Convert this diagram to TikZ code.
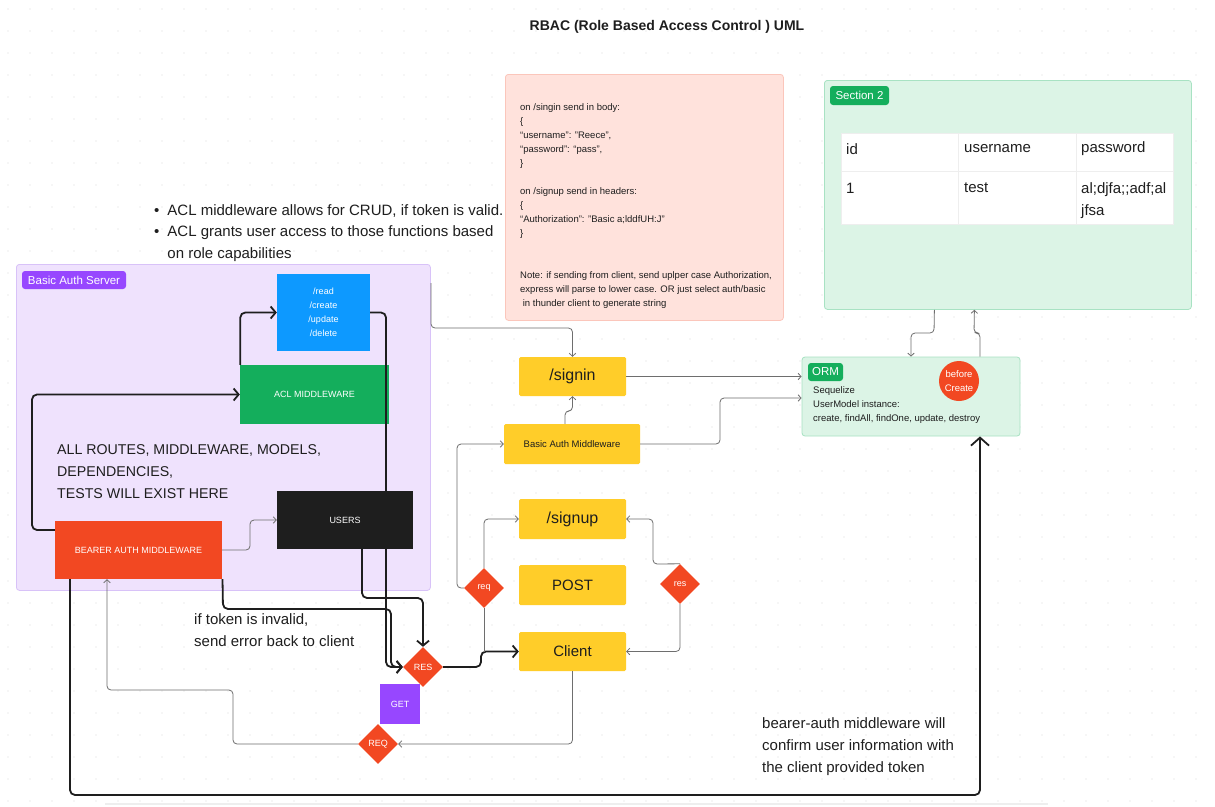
\documentclass[tikz,border=0pt]{standalone}
\usepackage{fontspec}
\setmainfont{Liberation Sans}
\usetikzlibrary{arrows.meta,shapes.geometric,calc}
\definecolor{ink}{HTML}{1E1E1E}
\definecolor{wire}{HTML}{6E6E6E}
\definecolor{dotc}{HTML}{D9D9D9}
\definecolor{pinkfill}{HTML}{FFE2DC}
\definecolor{pinkline}{HTML}{FBC6BB}
\definecolor{mintfill}{HTML}{DCF4E6}
\definecolor{mintline}{HTML}{A8E2C3}
\definecolor{lilacfill}{HTML}{EFE2FD}
\definecolor{lilacline}{HTML}{D8C2F8}
\definecolor{figpurple}{HTML}{9747FF}
\definecolor{figgreen}{HTML}{14AE5C}
\definecolor{figblue}{HTML}{0D99FF}
\definecolor{figred}{HTML}{F24822}
\definecolor{figyellow}{HTML}{FFCD29}
\definecolor{cellline}{HTML}{EEEEEE}
\begin{document}
\begin{tikzpicture}[x=1pt,y=-1pt,
  area/.style={draw, line width=0.8pt, rounded corners=3pt, inner sep=0pt},
  pill/.style={rounded corners=3pt, text=white, inner sep=0pt, font=\fontsize{11.5}{13}\selectfont},
  solid box/.style={inner sep=0pt, text=white, align=center, font=\fontsize{9}{14}\selectfont},
  ybox/.style={fill=figyellow, rounded corners=1.5pt, inner sep=0pt, text=ink, minimum width=107pt},
  dia/.style={diamond, aspect=1, fill=figred, inner sep=0pt, minimum width=40pt, minimum height=40pt, text=white, font=\fontsize{9}{11}\selectfont},
  cell/.style={fill=white, draw=cellline, line width=0.6pt, inner sep=0pt, anchor=north west},
  celltext/.style={anchor=west, inner sep=0pt, text=ink, font=\fontsize{15}{22}\selectfont, align=left},
  txt/.style={inner sep=0pt, text=ink, align=left, anchor=north west},
  thn/.style={draw=wire, line width=0.8pt, rounded corners=4pt},
  thk/.style={draw=ink, line width=1.8pt, rounded corners=5pt},
  thinarrow/.style={-{Straight Barb[length=3pt,width=6.5pt,line width=0.8pt]}},
  thickarrow/.style={-{Straight Barb[length=5pt,width=12pt,line width=1.8pt]}},
]
\useasboundingbox (0,0) rectangle (1215,806);
\fill[white] (0,0) rectangle (1215,806);
\foreach \i in {0,...,55} {\foreach \j in {0,...,36} {\fill[dotc] (8+\i*22, 9+\j*22) circle (0.65pt);}}

% title
\node[inner sep=0pt, text=ink, font=\bfseries\fontsize{14}{17}\selectfont] (title) at (667,27) {RBAC (Role Based Access Control ) UML};

% note box
\node[area, draw=pinkline, fill=pinkfill, anchor=north west, minimum width=278pt, minimum height=246pt] (note) at (505,74) {};
\node[txt, font=\fontsize{9.5}{14}\selectfont] (notetext) at (520,103.5) {on /singin send in body:\\
\{\\
“username”: "Reece",\\
“password”: “pass”,\\
\}\\
\mbox{}\\
on /signup send in headers:\\
\{\\
“Authorization”: "Basic a;lddfUH:J”\\
\}\\
\mbox{}\\
\mbox{}\\
Note: if sending from client, send uplper case Authorization,\\
express will parse to lower case. OR just select auth/basic\\
\ in thunder client to generate string};

% section 2
\node[area, draw=mintline, fill=mintfill, anchor=north west, minimum width=367pt, minimum height=229pt] (sec2) at (824,80) {};
\node[pill, fill=figgreen, minimum width=59pt, minimum height=19pt] (sec2lbl) at (859.5,95.5) {Section 2};
\node[cell, minimum width=117pt, minimum height=38pt] (c11) at (841,133) {};
\node[cell, minimum width=118pt, minimum height=38pt] (c12) at (958,133) {};
\node[cell, minimum width=97pt, minimum height=38pt] (c13) at (1076,133) {};
\node[cell, minimum width=117pt, minimum height=53pt] (c21) at (841,171) {};
\node[cell, minimum width=118pt, minimum height=53pt] (c22) at (958,171) {};
\node[cell, minimum width=97pt, minimum height=53pt] (c23) at (1076,171) {};
\node[celltext] (t11) at (846,149) {id};
\node[celltext] (t12) at (964,149) {username};
\node[celltext] (t13) at (1081,149) {password};
\node[celltext] (t21) at (846,188) {1};
\node[celltext] (t22) at (964,188) {test};
\node[txt, font=\fontsize{15}{22}\selectfont] (t23) at (1081,182) {al;djfa;;adf;al\\jfsa};

% bullets
\node[txt, font=\fontsize{15}{21.5}\selectfont] (bullets) at (154,200) {\begin{tabular}{@{}l@{\hspace{8pt}}l@{}}•&ACL middleware allows for CRUD, if token is valid.\\ •&ACL grants user access to those functions based\\ &on role capabilities\end{tabular}};

% server area
\node[area, draw=lilacline, fill=lilacfill, anchor=north west, minimum width=414pt, minimum height=326pt] (server) at (16,264) {};
\node[pill, fill=figpurple, minimum width=104pt, minimum height=18pt] (serverlbl) at (74,280) {Basic Auth Server};

\node[solid box, fill=figblue, minimum width=93pt, minimum height=77pt] (crud) at (323.5,312.5) {/read\\/create\\/update\\/delete};
\node[solid box, fill=figgreen, minimum width=149pt, minimum height=59pt] (acl) at (314.5,394.5) {ACL MIDDLEWARE};
\node[txt, font=\fontsize{14.2}{22}\selectfont] (allroutes) at (57,444.5) {ALL ROUTES, MIDDLEWARE, MODELS,\\DEPENDENCIES,\\TESTS WILL EXIST HERE};
\node[solid box, fill=ink, minimum width=136pt, minimum height=58pt] (users) at (345,520) {USERS};
\node[solid box, fill=figred, minimum width=167pt, minimum height=58pt] (bearer) at (138.5,550) {BEARER AUTH MIDDLEWARE};

% yellow column
\node[ybox, minimum height=39pt, font=\fontsize{16}{18}\selectfont] (signin) at (572.5,376.5) {/signin};
\node[ybox, minimum width=136pt, minimum height=40pt, font=\fontsize{9.5}{11}\selectfont] (basicmw) at (572,444) {Basic Auth Middleware};
\node[ybox, minimum height=40pt, font=\fontsize{16}{18}\selectfont] (signup) at (572.5,519) {/signup};
\node[ybox, minimum height=40pt, font=\fontsize{15}{18}\selectfont] (post) at (572.5,585) {POST};
\node[ybox, minimum height=39pt, font=\fontsize{15}{18}\selectfont] (client) at (572.5,651.5) {Client};

% diamonds
\node[dia] (reqd) at (484,588) {req};
\node[dia] (resd) at (680,584) {res};
\node[dia] (RESd) at (423,667) {RES};
\node[dia] (REQd) at (378,744) {REQ};
\node[solid box, fill=figpurple, minimum width=40pt, minimum height=40pt] (get) at (400,704) {GET};

% ORM
\node[area, draw=mintline, fill=mintfill, minimum width=218pt, minimum height=79pt] (orm) at (911,396.5) {};
\node[pill, fill=figgreen, minimum width=35pt, minimum height=18pt] (ormlbl) at (825.5,372) {ORM};
\node[txt, font=\fontsize{9.5}{14}\selectfont] (ormtext) at (813,386.5) {Sequelize\\UserModel instance:\\create, findAll, findOne, update, destroy};
\node[circle, fill=figred, minimum size=40pt, inner sep=0pt, text=white, align=center, font=\fontsize{9.5}{14}\selectfont] (before) at (959,381) {before\\Create};

% texts
\node[txt, font=\fontsize{15}{22}\selectfont] (invalid) at (194,613.5) {if token is invalid,\\send error back to client};
\node[txt, font=\fontsize{15}{22}\selectfont] (confirm) at (762,717.5) {bearer-auth middleware will\\confirm user information with\\the client provided token};

% faint bar at bottom
\draw[draw=cellline, line width=1.5pt] (105,804) -- (1048,804);

% thick connectors
\draw[thk, thickarrow] ([yshift=20pt]bearer.west) -- (32,530) -- (32,394.5) -- (acl.west);
\draw[thk, thickarrow] ([xshift=0.5pt]acl.north west) |- (crud.west);
\draw[thk, thickarrow] (crud.east) -- (386,312.5) -- (386,667) -- (RESd.west);
\draw[thk, thickarrow] ([xshift=84pt]bearer.south) -- (223,609) -- (391,609) -- (391,667) -- (RESd.west);
\draw[thk, thickarrow] ([xshift=17pt]users.south) -- (362,598) -- (423,598) -- (RESd.north);
\draw[thk, thickarrow] (RESd.east) -- (481,667) -- (481,651.5) -- (client.west);
\draw[thk, -{Straight Barb[length=8pt,width=18pt,line width=1.8pt]}] ([xshift=-68.5pt]bearer.south) -- (70,795) -- (980,795) -- ([xshift=69pt]orm.south);

% thin connectors
\coordinate (bulletend) at (431,283);
\draw[thn, thinarrow] (bulletend) -- (431,328) -- (572.5,328) -- (signin.north);
\draw[thn, thinarrow] (bearer.east) -- (250,550) -- (250,520) -- (users.west);
\draw[thn, thinarrow] ([xshift=-7pt]basicmw.north) -- (565,411) -- (572.5,411) -- (signin.south);
\draw[thn, thinarrow] (signin.east) -- (signin.east -| orm.west);
\draw[thn, thinarrow] (basicmw.east) -- (720,444) -- (720,398) -- ([yshift=-1.5pt]orm.west);
\draw[thn, thinarrow] ([xshift=-73.5pt]sec2.south) -- (934,333) -- (911,333) -- (orm.north);
\draw[thn, thinarrow] ([xshift=69pt]orm.north) -- (980,333) -- (974,333) -- ([xshift=-33.5pt]sec2.south);
\draw[thn, thinarrow] (reqd.north) |- (signup.west);
\draw[thn] (reqd.south) -- (484,651.5);
\draw[thn, thinarrow] (reqd.west) -- (457,588) -- (457,444) -- (basicmw.west);
\draw[thn, thinarrow] (resd.north) -- (653,564) -- (653,519) -- (signup.east);
\draw[thn, thinarrow] (resd.south) |- (client.east);
\draw[thn, thinarrow] (client.south) -- (572.5,744) -- (REQd.east);
\draw[thn, thinarrow] (REQd.west) -- (233,744) -- (233,690) -- (107,690) -- ([xshift=-31.5pt]bearer.south);
\end{tikzpicture}
\end{document}
